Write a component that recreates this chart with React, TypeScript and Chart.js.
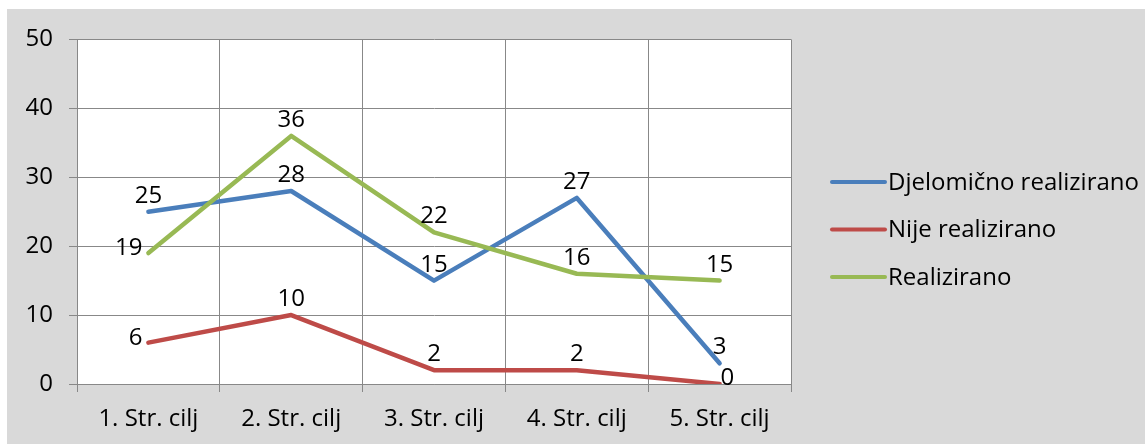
import React, { useEffect, useRef } from 'react';
import { Chart, registerables } from 'chart.js';

Chart.register(...registerables);

const categories = ['1. Str. cilj', '2. Str. cilj', '3. Str. cilj', '4. Str. cilj', '5. Str. cilj'];
const seriesNames = ['Djelomično realizirano', 'Nije realizirano', 'Realizirano'];
const djelomicnoValues = [25, 28, 15, 27, 3];
const nijeValues = [6, 10, 2, 2, 0];
const realiziranoValues = [19, 36, 22, 16, 15];
const seriesColors = ['#4A7EBB', '#BE4B48', '#98B954'];
const labelPositions = [
  ['above', 'above', 'above', 'above', 'above'],
  ['left', 'above', 'above', 'above', 'right'],
  ['left', 'above', 'above', 'above', 'above'],
];
const yMin = 0;
const yMax = 50;
const yStep = 10;

const FONT = '"Open Sans", sans-serif';
const FONT_SIZE = 24;

const plotBgPlugin = {
  id: 'plotBg',
  beforeDraw(chart: any) {
    const { ctx, chartArea } = chart;
    ctx.save();
    ctx.fillStyle = '#ffffff';
    ctx.fillRect(chartArea.left, chartArea.top, chartArea.right - chartArea.left, chartArea.bottom - chartArea.top);
    ctx.restore();
  },
};

const dataLabelPlugin = {
  id: 'dataLabels',
  afterDatasetsDraw(chart: any) {
    const ctx = chart.ctx;
    ctx.save();
    ctx.font = `${FONT_SIZE}px ${FONT}`;
    ctx.fillStyle = '#000';
    chart.data.datasets.forEach((ds: any, di: number) => {
      const meta = chart.getDatasetMeta(di);
      meta.data.forEach((pt: any, i: number) => {
        const pos = labelPositions[di][i];
        const txt = String(ds.data[i]);
        ctx.textBaseline = 'alphabetic';
        if (pos === 'above') {
          ctx.textAlign = 'center';
          ctx.fillText(txt, pt.x, pt.y - 9);
        } else if (pos === 'left') {
          ctx.textAlign = 'right';
          ctx.fillText(txt, pt.x - 6, pt.y + 2);
        } else {
          ctx.textAlign = 'left';
          ctx.fillText(txt, pt.x + 1, pt.y + 1);
        }
      });
    });
    ctx.restore();
  },
};

const legendPlugin = {
  id: 'sideLegend',
  afterDraw(chart: any) {
    const ctx = chart.ctx;
    ctx.save();
    ctx.font = `${FONT_SIZE}px ${FONT}`;
    ctx.textAlign = 'left';
    ctx.textBaseline = 'middle';
    const x0 = 825;
    const y0 = 173;
    const gap = 47.5;
    chart.data.datasets.forEach((ds: any, di: number) => {
      const y = y0 + di * gap;
      ctx.strokeStyle = ds.borderColor;
      ctx.lineWidth = 4;
      ctx.lineCap = 'round';
      ctx.beginPath();
      ctx.moveTo(x0, y);
      ctx.lineTo(x0 + 53, y);
      ctx.stroke();
      ctx.fillStyle = '#000';
      ctx.fillText(ds.label, x0 + 56, y + 1);
    });
    ctx.restore();
  },
};

export default function App() {
  const ref = useRef<HTMLCanvasElement | null>(null);
  useEffect(() => {
    if (!ref.current) return;
    const values = [djelomicnoValues, nijeValues, realiziranoValues];
    const chart = new Chart(ref.current, {
      type: 'line',
      data: {
        labels: categories,
        datasets: seriesNames.map((name, i) => ({
          label: name,
          data: values[i],
          borderColor: seriesColors[i],
          backgroundColor: seriesColors[i],
          borderWidth: 4.5,
          borderCapStyle: 'round',
          borderJoinStyle: 'round',
          pointRadius: 0,
          tension: 0,
          order: 2 - i,
        })),
      },
      options: {
        animation: false,
        responsive: false,
        events: [],
        layout: { padding: { top: 30, right: 354, left: 0, bottom: 0 } },
        plugins: { legend: { display: false }, tooltip: { enabled: false } },
        scales: {
          x: {
            offset: true,
            grid: { offset: true, color: '#888888', lineWidth: 1, tickLength: 8 },
            border: { color: '#888888', width: 1 },
            ticks: { color: '#000', font: { family: FONT, size: FONT_SIZE }, padding: 13, maxRotation: 0 },
            afterFit(scale: any) { scale.height = 60; },
          },
          y: {
            min: yMin,
            max: yMax,
            grid: { color: '#888888', lineWidth: 1, tickLength: 8 },
            border: { color: '#888888', width: 1 },
            ticks: { stepSize: yStep, color: '#000', font: { family: FONT, size: FONT_SIZE }, padding: 16 },
            afterFit(scale: any) { scale.width = 70; },
          },
        },
      },
      plugins: [plotBgPlugin, dataLabelPlugin, legendPlugin],
    });
    if ((document as any).fonts && (document as any).fonts.load) {
      (document as any).fonts.load(`${FONT_SIZE}px "Open Sans"`).then(() => chart.update()).catch(() => {});
    }
    return () => chart.destroy();
  }, []);
  return (
    <div style={{ position: 'absolute', left: 7, top: 9, width: 1138, height: 435, background: '#d9d9d9' }}>
      <canvas ref={ref} width={1138} height={435} style={{ display: 'block' }} />
    </div>
  );
}
